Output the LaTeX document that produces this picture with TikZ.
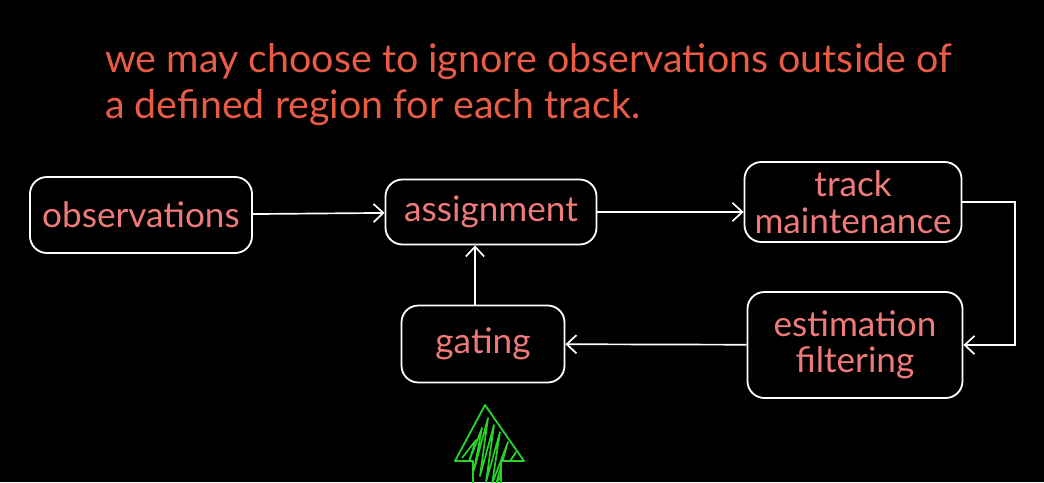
\documentclass[tikz,border=0pt]{standalone}
\usepackage{fontspec}
\setmainfont{Lato}
\usetikzlibrary{arrows.meta}
\definecolor{notecol}{RGB}{232,92,70}
\definecolor{labelcol}{RGB}{238,122,122}
\definecolor{gatecol}{RGB}{40,210,40}
\tikzset{
	stage/.style={draw=white, line width=1.3pt, rounded corners=12pt, text=labelcol,
		font=\fontsize{25}{26}\selectfont, align=center, inner sep=0pt},
	flow/.style={draw=white, line width=1.2pt, -{Straight Barb[length=7pt,width=13pt]}}
}
\begin{document}
\begin{tikzpicture}[x=0.025cm,y=-0.025cm]
	% Fond
	\fill[black] (0,0) rectangle (1044,482);
	\useasboundingbox (0,0) rectangle (1044,482);

	% Nota
	\node[anchor=base west, text=notecol, font=\fontsize{28}{30}\selectfont, inner sep=0pt] (note1) at (105,72)
		{we may choose to ignore observations outside of};
	\node[anchor=base west, text=notecol, font=\fontsize{28}{30}\selectfont, inner sep=0pt] (note2) at (105,118)
		{a defined region for each track.};

	% Etapes
	\node[stage, minimum width=222*0.025cm, minimum height=76*0.025cm] (obs) at (141,215) {observations};
	\node[stage, minimum width=211*0.025cm, minimum height=65*0.025cm] (assign) at (491,212) {assignment};
	\node[stage, minimum width=217*0.025cm, minimum height=80*0.025cm] (maint) at (853,202) {track\\maintenance};
	\node[stage, minimum width=163*0.025cm, minimum height=77*0.025cm] (gate) at (483,344) {gating};
	\node[stage, minimum width=215*0.025cm, minimum height=106*0.025cm] (est) at (855,345) {estimation\\filtering};

	% Connexions
	\coordinate (loop) at (1015,0);
	\draw[flow] (obs) -- (assign);
	\draw[flow] (assign) -- (maint.west |- assign);
	\draw[flow] (maint.east) -- (maint.east -| loop) -- (est.east -| loop) -- (est.east);
	\draw[flow] (est) -- (gate);
	\draw[flow] (gate.north -| 475,0) -- (assign.south -| 475,0);

	% Fletxa verda
	\draw[gatecol, line width=1.3pt, line join=round]
		(485,405) -- (524,461) -- (501,461) -- (501,490) -- (473,490) -- (473,461) -- (455,461) -- cycle;
	\begin{scope}
		\clip (485,405) -- (524,461) -- (501,461) -- (501,490) -- (473,490) -- (473,461) -- (455,461) -- cycle;
		\draw[gatecol, line width=1.2pt, line join=round]
			(462,458) -- (476,440) -- (468,464) -- (482,428) -- (474,470) -- (488,418)
			-- (480,476) -- (494,425) -- (486,482) -- (500,432) -- (492,484) -- (508,442)
			-- (496,484) -- (516,452) -- (500,476);
	\end{scope}
\end{tikzpicture}
\end{document}
